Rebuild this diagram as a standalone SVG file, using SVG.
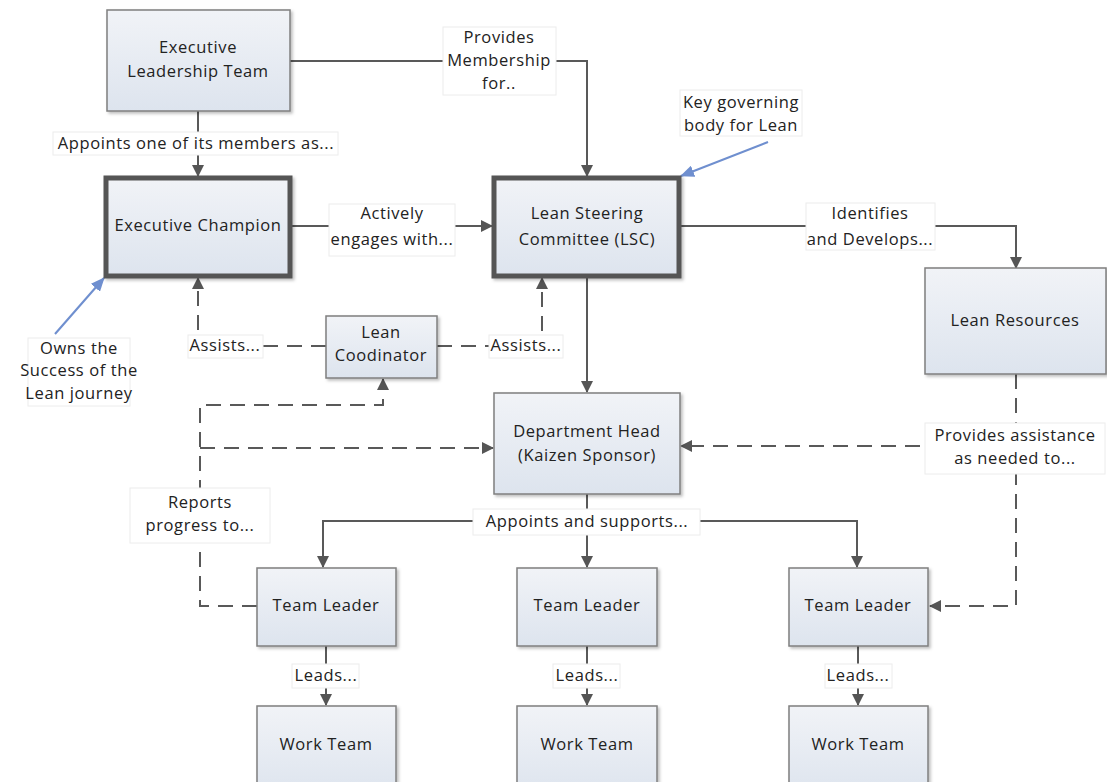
<svg xmlns="http://www.w3.org/2000/svg" width="1107" height="782" viewBox="0 0 1107 782">
<defs>
<linearGradient id="g" x1="0" y1="0" x2="0" y2="1">
<stop offset="0" stop-color="#f1f3f7"/>
<stop offset="1" stop-color="#dde4ee"/>
</linearGradient>
<filter id="sh" x="-10%" y="-10%" width="130%" height="130%">
<feDropShadow dx="2" dy="2" stdDeviation="1.5" flood-color="#000" flood-opacity="0.25"/>
</filter>
<marker id="ah" viewBox="0 0 12 12" refX="11" refY="6" markerWidth="12" markerHeight="12" markerUnits="userSpaceOnUse" orient="auto">
<path d="M0,0 L12,6 L0,12 Z" fill="#555"/>
</marker>
<marker id="ab" viewBox="0 0 14 12" refX="13" refY="6" markerWidth="14" markerHeight="12" markerUnits="userSpaceOnUse" orient="auto">
<path d="M0,0 L14,6 L0,12 Z" fill="#6f8fcf"/>
</marker>
</defs>
<style>
.box{fill:url(#g);stroke:#7f7f7f;stroke-width:1.5;filter:url(#sh)}
.bold{fill:url(#g);stroke:#555;stroke-width:5;filter:url(#sh)}
text{font-family:"Open Sans","Noto Sans","DejaVu Sans",sans-serif;font-size:16.5px;letter-spacing:0.6px;fill:#222;text-anchor:middle}
.c{fill:none;stroke:#595959;stroke-width:2}
.d{fill:none;stroke:#595959;stroke-width:2;stroke-dasharray:15 9}
.bl{fill:none;stroke:#6f8fcf;stroke-width:2}
.lb{fill:#fff;stroke:#ececec;stroke-width:1}
</style>

<g id="connectors">
<polyline class="c" points="290,61 587,61 587,176" marker-end="url(#ah)"/>
<polyline class="c" points="198,111 198,176" marker-end="url(#ah)"/>
<polyline class="c" points="290,226 492,226" marker-end="url(#ah)"/>
<polyline class="c" points="680,226 1016,226 1016,268" marker-end="url(#ah)"/>
<polyline class="c" points="587,276 587,392" marker-end="url(#ah)"/>
<polyline class="c" points="587,494 587,521"/>
<polyline class="c" points="587,521 323,521 323,567" marker-end="url(#ah)"/>
<polyline class="c" points="587,521 587,567" marker-end="url(#ah)"/>
<polyline class="c" points="587,521 857,521 857,567" marker-end="url(#ah)"/>
<polyline class="c" points="326,646 326,705" marker-end="url(#ah)"/>
<polyline class="c" points="587,646 587,705" marker-end="url(#ah)"/>
<polyline class="c" points="858,646 858,705" marker-end="url(#ah)"/>
<polyline class="d" points="326,346 198,346 198,278" marker-end="url(#ah)"/>
<polyline class="d" points="437,346 542,346 542,278" marker-end="url(#ah)"/>
<polyline class="d" points="257,606 200,606 200,405 383,405 383,379" marker-end="url(#ah)"/>
<polyline class="d" points="200,448 493,448" marker-end="url(#ah)"/>
<polyline class="d" points="1016,374 1016,606 930,606" marker-end="url(#ah)"/>
<polyline class="d" points="1016,446 681,446" marker-end="url(#ah)"/>
<line class="bl" x1="55" y1="334" x2="104" y2="278" marker-end="url(#ab)"/>
<line class="bl" x1="768" y1="142" x2="681" y2="176" marker-end="url(#ab)"/>

<rect class="lb" x="443" y="27" width="113" height="68"/>
<text x="499" y="43">Provides</text>
<text x="499" y="66">Membership</text>
<text x="499" y="89">for..</text>
<rect class="lb" x="53" y="132" width="285" height="23"/>
<text x="196" y="149">Appoints one of its members as...</text>
<rect class="lb" x="329" y="204" width="126" height="52"/>
<text x="392" y="219">Actively</text>
<text x="392" y="245">engages with...</text>
<rect class="lb" x="806" y="203" width="129" height="47"/>
<text x="870" y="219">Identifies</text>
<text x="870" y="245">and Develops...</text>
<rect class="lb" x="188" y="335" width="75" height="23"/>
<text x="225" y="351">Assists...</text>
<rect class="lb" x="489" y="335" width="74" height="23"/>
<text x="526" y="351">Assists...</text>
<rect class="lb" x="130" y="488" width="140" height="55"/>
<text x="200" y="508">Reports</text>
<text x="200" y="531">progress to...</text>
<rect class="lb" x="925" y="423" width="180" height="51"/>
<text x="1015" y="441">Provides assistance</text>
<text x="1015" y="464">as needed to...</text>
<rect class="lb" x="473" y="509" width="227" height="26"/>
<text x="587" y="527">Appoints and supports...</text>
<rect class="lb" x="292" y="664" width="67" height="24"/>
<text x="326" y="681">Leads...</text>
<rect class="lb" x="553" y="664" width="67" height="24"/>
<text x="587" y="681">Leads...</text>
<rect class="lb" x="825" y="664" width="67" height="24"/>
<text x="858" y="681">Leads...</text>
<rect class="lb" x="680" y="90" width="122" height="46"/>
<text x="741" y="108">Key governing</text>
<text x="741" y="131">body for Lean</text>
<rect class="lb" x="28" y="338" width="102" height="68"/>
<text x="79" y="354">Owns the</text>
<text x="79" y="376">Success of the</text>
<text x="79" y="399">Lean journey</text>
</g>

<g id="elt"><rect class="box" x="107" y="10" width="183" height="101"/><text x="198" y="53">Executive</text><text x="198" y="77">Leadership Team</text></g>
<g id="ec"><rect class="bold" x="106" y="178" width="184" height="98"/><text x="198" y="231">Executive Champion</text></g>
<g id="lsc"><rect class="bold" x="494" y="178" width="185" height="98"/><text x="587" y="219">Lean Steering</text><text x="587" y="245">Committee (LSC)</text></g>
<g id="lr"><rect class="box" x="925" y="268" width="181" height="106"/><text x="1015" y="326">Lean Resources</text></g>
<g id="lc"><rect class="box" x="326" y="316" width="111" height="62"/><text x="381" y="338">Lean</text><text x="381" y="361">Coodinator</text></g>
<g id="dh"><rect class="box" x="494" y="393" width="186" height="101"/><text x="587" y="437">Department Head</text><text x="587" y="461">(Kaizen Sponsor)</text></g>
<g id="tl1"><rect class="box" x="257" y="568" width="139" height="78"/><text x="326" y="611">Team Leader</text></g>
<g id="tl2"><rect class="box" x="517" y="568" width="140" height="78"/><text x="587" y="611">Team Leader</text></g>
<g id="tl3"><rect class="box" x="789" y="568" width="139" height="78"/><text x="858" y="611">Team Leader</text></g>
<g id="wt1"><rect class="box" x="257" y="706" width="139" height="90"/><text x="326" y="750">Work Team</text></g>
<g id="wt2"><rect class="box" x="517" y="706" width="140" height="90"/><text x="587" y="750">Work Team</text></g>
<g id="wt3"><rect class="box" x="789" y="706" width="139" height="90"/><text x="858" y="750">Work Team</text></g>
</svg>
